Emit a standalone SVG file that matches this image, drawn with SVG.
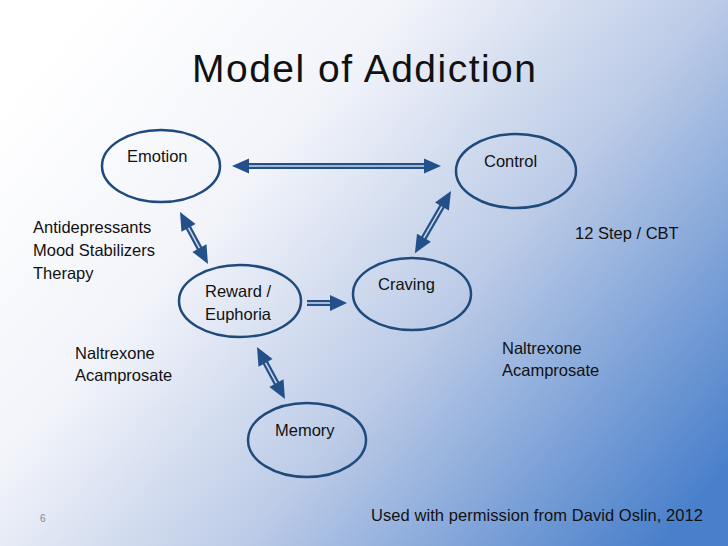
<svg xmlns="http://www.w3.org/2000/svg" width="728" height="546" viewBox="0 0 728 546">
<defs>
<linearGradient id="bg" x1="0" y1="0.2" x2="1" y2="0.85">
<stop offset="0" stop-color="#ffffff"/>
<stop offset="0.3" stop-color="#f2f4fa"/>
<stop offset="0.6" stop-color="#bccbe7"/>
<stop offset="1" stop-color="#4a80cb"/>
</linearGradient>
<style>
.node{fill:none;stroke:#1f4a7c;stroke-width:2.5}
.t{font-family:"Liberation Sans",Arial,sans-serif;font-size:16.5px;fill:#111}
.shaft{stroke:#24508a;stroke-width:6}
.inner{stroke:#e8eef8;stroke-width:1.6;opacity:0.85}
.head{fill:#24508a}
</style>
</defs>
<rect width="728" height="546" fill="url(#bg)"/>
<text x="364" y="82" text-anchor="middle" font-family="Liberation Sans, Arial, sans-serif" font-size="39" fill="#111" textLength="344">Model of Addiction</text>

<g id="connectors">
<g id="emotion-control" transform="translate(232,166)">
<line class="shaft" x1="14" y1="0" x2="195" y2="0"/>
<line class="inner" x1="14" y1="0" x2="195" y2="0"/>
<polygon class="head" points="0,0 17,-7.5 17,7.5"/>
<polygon class="head" points="209,0 192,-7.5 192,7.5"/>
</g>
<g id="emotion-reward" transform="translate(180,212) rotate(61.7)">
<line class="shaft" x1="14" y1="0" x2="45" y2="0"/>
<line class="inner" x1="14" y1="0" x2="45" y2="0"/>
<polygon class="head" points="0,0 18,-8 18,8"/>
<polygon class="head" points="59,0 41,-8 41,8"/>
</g>
<g id="control-craving" transform="translate(451,191) rotate(120.1)">
<line class="shaft" x1="14" y1="0" x2="58" y2="0"/>
<line class="inner" x1="14" y1="0" x2="58" y2="0"/>
<polygon class="head" points="0,0 18,-8 18,8"/>
<polygon class="head" points="72,0 54,-8 54,8"/>
</g>
<g id="reward-memory" transform="translate(257,347) rotate(61.7)">
<line class="shaft" x1="14" y1="0" x2="45" y2="0"/>
<line class="inner" x1="14" y1="0" x2="45" y2="0"/>
<polygon class="head" points="0,0 18,-8 18,8"/>
<polygon class="head" points="59,0 41,-8 41,8"/>
</g>
<g id="reward-craving" transform="translate(307,303)">
<line class="shaft" x1="0" y1="0" x2="26" y2="0"/>
<line class="inner" x1="0" y1="0" x2="26" y2="0"/>
<polygon class="head" points="40,0 23,-8 23,8"/>
</g>
</g>

<g id="emotion">
<ellipse class="node" cx="161" cy="166" rx="59" ry="36"/>
<text class="t" x="127" y="162">Emotion</text>
</g>
<g id="control">
<ellipse class="node" cx="516" cy="171" rx="60" ry="37"/>
<text class="t" x="484" y="167">Control</text>
</g>
<g id="reward">
<ellipse class="node" cx="240" cy="301" rx="61" ry="36"/>
<text class="t" x="205" y="297">Reward /</text>
<text class="t" x="205" y="320">Euphoria</text>
</g>
<g id="craving">
<ellipse class="node" cx="412" cy="294" rx="59" ry="36"/>
<text class="t" x="378" y="290">Craving</text>
</g>
<g id="memory">
<ellipse class="node" cx="307" cy="440" rx="59" ry="37"/>
<text class="t" x="275" y="436">Memory</text>
</g>

<g id="labels">
<text class="t" x="33" y="233">Antidepressants</text>
<text class="t" x="33" y="256">Mood Stabilizers</text>
<text class="t" x="33" y="279">Therapy</text>
<text class="t" x="75" y="359">Naltrexone</text>
<text class="t" x="75" y="381">Acamprosate</text>
<text class="t" x="502" y="354">Naltrexone</text>
<text class="t" x="502" y="376">Acamprosate</text>
<text class="t" x="575" y="239">12 Step / CBT</text>
<text class="t" x="371" y="521" textLength="332">Used with permission from David Oslin, 2012</text>
<text x="40" y="522" font-family="Liberation Sans, Arial, sans-serif" font-size="10" fill="#888">6</text>
</g>
</svg>
